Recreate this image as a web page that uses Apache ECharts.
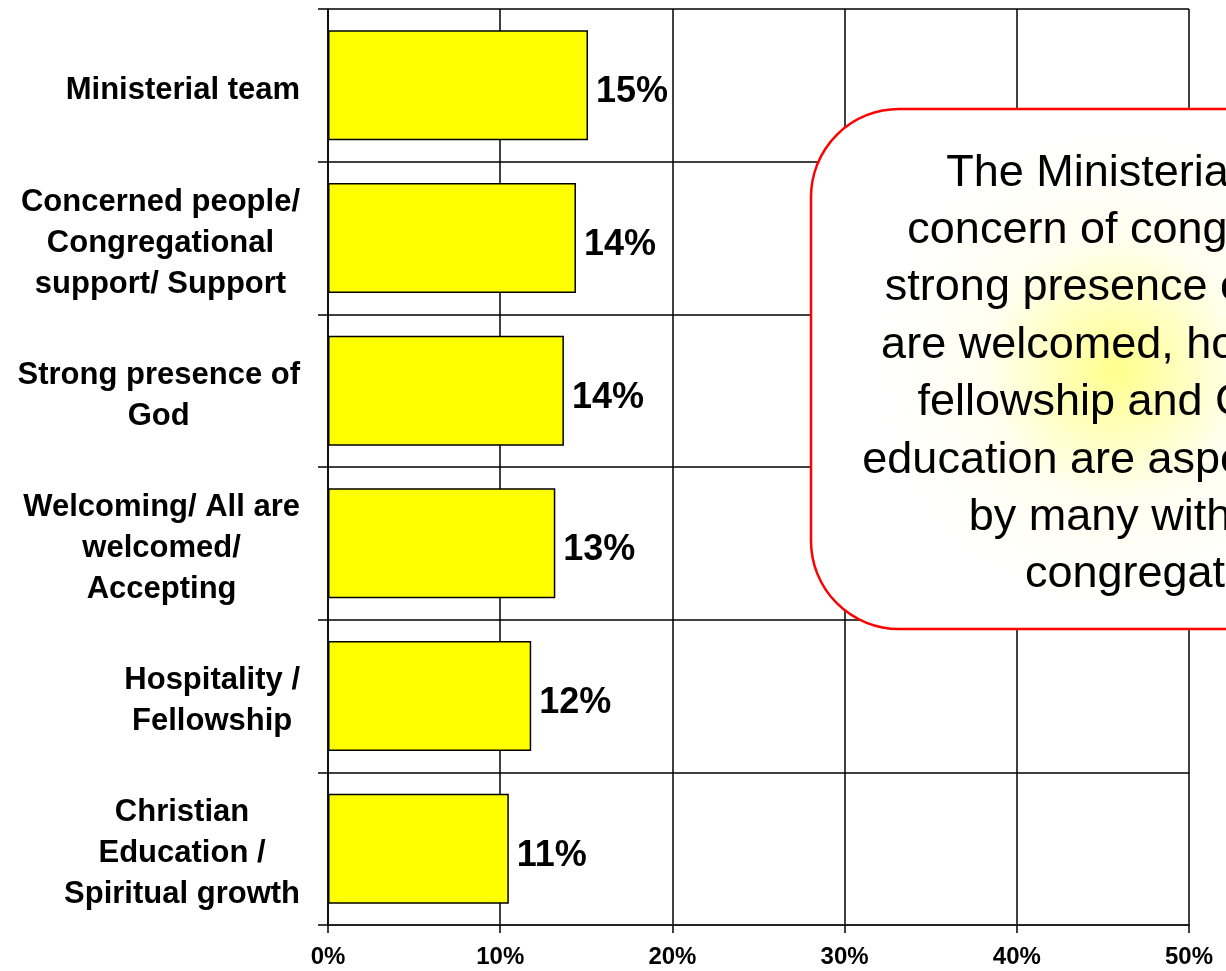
<!DOCTYPE html>
<html>
<head>
<meta charset="utf-8">
<script src="https://cdn.jsdelivr.net/npm/echarts@6/dist/echarts.min.js"></script>
<style>
  html, body { margin: 0; padding: 0; background: #fff; }
  #chart { width: 1226px; height: 971px; }
</style>
</head>
<body>
<div id="chart"></div>
<script>
// Survey categories, top to bottom
const categories = [
  'Ministerial team',
  'Concerned people/\nCongregational\nsupport/ Support',
  'Strong presence of\nGod',
  'Welcoming/ All are\nwelcomed/\nAccepting',
  'Hospitality /\nFellowship',
  'Christian\nEducation /\nSpiritual growth'
];

// Share of responses (%)
const shares = [15.1, 14.4, 13.7, 13.2, 11.8, 10.5];

// Percent axis ticks
const axisMin = 0;
const axisMax = 50;
const axisStep = 10;

// Callout text lines
const calloutLines = [
  'The Ministerial team,',
  'concern of congregation,',
  'strong presence of God, all',
  'are welcomed, hospitality &',
  'fellowship and Christian',
  'education are aspects valued',
  'by many within the',
  'congregation'
];

const FONT = '"Liberation Sans", Arimo, Arial, sans-serif';

const chart = echarts.init(document.getElementById('chart'), null, { renderer: 'canvas' });

chart.setOption({
  backgroundColor: '#ffffff',
  animation: false,
  grid: { left: 328, right: 37, top: 9, bottom: 46, containLabel: false },
  xAxis: {
    type: 'value',
    min: axisMin,
    max: axisMax,
    interval: axisStep,
    axisLine: { show: true, lineStyle: { color: '#222', width: 2 } },
    axisTick: { show: true, length: 8, lineStyle: { color: '#000', width: 1.5 } },
    axisLabel: {
      formatter: '{value}%',
      fontFamily: FONT,
      fontWeight: 'bold',
      fontSize: 24,
      color: '#000',
      margin: 20
    },
    splitLine: { show: true, lineStyle: { color: '#000', width: 1.5 } }
  },
  yAxis: {
    type: 'category',
    inverse: true,
    data: categories,
    axisLine: { show: true, lineStyle: { color: '#000', width: 1.5 } },
    axisTick: { show: true, length: 10, lineStyle: { color: '#000', width: 1.5 } },
    splitLine: { show: true, lineStyle: { color: '#000', width: 1.5 } },
    axisLabel: {
      margin: 28,
      align: 'right',
      padding: [10, 0, 0, 0],
      formatter: function (v) {
        return v.split('\n').map(function (l) { return '{c|' + l + '}'; }).join('\n');
      },
      rich: {
        c: {
          align: 'center',
          fontFamily: FONT,
          fontWeight: 'bold',
          fontSize: 31,
          lineHeight: 41,
          color: '#000'
        }
      }
    }
  },
  series: [{
    type: 'bar',
    data: shares,
    barCategoryGap: '28%',
    itemStyle: { color: '#ffff00', borderColor: '#000', borderWidth: 1.5 },
    label: {
      show: true,
      position: 'right',
      distance: 8,
      offset: [0, 7],
      formatter: function (p) { return Math.round(p.value) + '%'; },
      fontFamily: FONT,
      fontWeight: 'bold',
      fontSize: 36,
      color: '#000'
    },
    z: 3
  }],
  graphic: [{
    type: 'rect',
    z: 100,
    shape: { x: 811, y: 109, width: 710, height: 520, r: 88 },
    style: {
      fill: {
        type: 'radial',
        x: 0.43,
        y: 0.5,
        r: 0.45,
        colorStops: [
          { offset: 0, color: '#ffff8c' },
          { offset: 0.55, color: '#fffff0' },
          { offset: 1, color: '#ffffff' }
        ]
      },
      stroke: '#ff0000',
      lineWidth: 2.5
    }
  }, {
    type: 'text',
    z: 101,
    x: 1155,
    y: 374,
    style: {
      text: calloutLines.join('\n'),
      fontFamily: FONT,
      fontSize: 45,
      lineHeight: 57.4,
      fill: '#000',
      align: 'center',
      verticalAlign: 'middle'
    }
  }]
});
</script>
</body>
</html>
